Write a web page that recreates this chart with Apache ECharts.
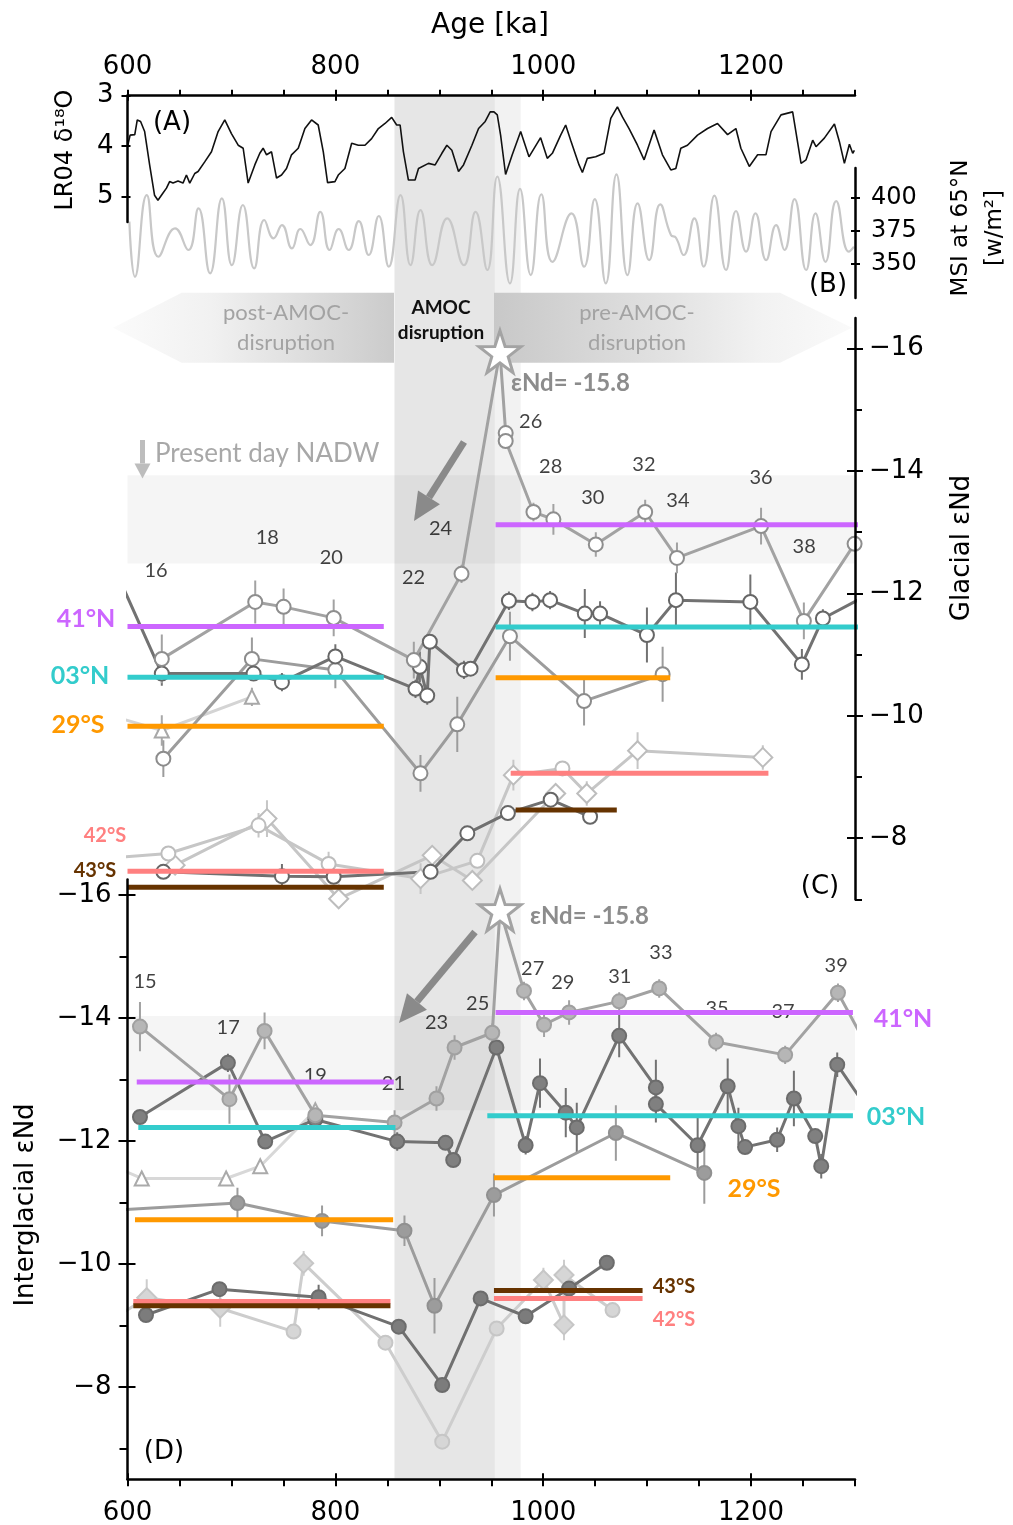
<!DOCTYPE html>
<html>
<head>
<meta charset="utf-8">
<script src="https://cdn.jsdelivr.net/npm/echarts@6/dist/echarts.min.js"></script>
<style>
  html, body { margin: 0; padding: 0; background: #fff; }
  #chart { width: 1013px; height: 1525px; }
</style>
</head>
<body>
<div id="chart"></div>
<script>
// ---- data (age in ka) ----
const lr04 = [[600.3,3.98],[602.5,3.78],[607,3.77],[609.4,3.48],[612.6,3.51],[616.5,3.71],[621.3,4.37],[626,4.97],[629.3,5.07],[634,4.93],[637.5,4.83],[640.5,4.70],[643.8,4.73],[648.6,4.69],[653.4,4.73],[656.7,4.57],[659.9,4.73],[664.7,4.54],[667.9,4.50],[674.3,4.31],[680.8,4.11],[687.2,3.71],[693.6,3.48],[700,3.75],[706.5,3.98],[711.3,4.04],[716.1,4.73],[722.5,4.37],[727.3,4.14],[730.5,4.04],[733.8,4.17],[738.6,4.11],[743.4,4.63],[748.2,4.57],[753,4.44],[757.8,4.17],[764.3,4.04],[770.7,3.65],[777.1,3.48],[783.5,3.58],[788.4,4.11],[792.5,4.72],[799.6,4.70],[802.8,4.57],[809.2,4.44],[815.7,3.94],[822.1,3.98],[828.5,3.98],[834.9,3.85],[841.4,3.65],[847.8,3.55],[854.2,3.43],[859,3.58],[862.3,3.58],[865.5,4.11],[870.3,4.67],[876.7,4.67],[880,4.44],[889.6,4.34],[896,4.37],[902.5,4.14],[907.3,3.98],[912.1,4.08],[918.5,4.50],[923.3,4.37],[931.4,3.98],[937.8,3.65],[944.2,3.51],[949,3.32],[952.6,3.32],[955.8,3.38],[959,3.78],[963.8,4.56],[970.2,4.17],[978.3,3.71],[986.3,4.21],[997.5,3.83],[1003.9,4.24],[1008.8,4.14],[1016.8,3.78],[1021.6,3.58],[1026.4,3.88],[1034.5,4.37],[1037.7,4.52],[1042.5,4.24],[1050.5,4.21],[1058.5,4.14],[1065,3.45],[1071.4,3.22],[1076.2,3.42],[1082.6,3.65],[1090.7,3.98],[1097.1,4.27],[1106.7,3.68],[1114.7,4.17],[1122.8,4.47],[1127.6,4.44],[1132.4,4.04],[1138.8,3.98],[1148.5,3.78],[1158.1,3.65],[1167.7,3.55],[1177.4,3.77],[1185.4,3.65],[1190.2,4.04],[1198.3,4.40],[1206.3,4.17],[1214.3,4.17],[1219.2,3.71],[1228.8,3.38],[1240,3.32],[1248.1,4.34],[1252.9,4.27],[1259.3,3.88],[1262.5,4.01],[1270.5,3.84],[1280.2,3.56],[1285,3.91],[1289.8,4.34],[1294.6,3.96],[1297.8,4.14],[1299.4,4.08]];

const msi = [[601.8,382],[607.2,340.4],[618.5,402],[629.7,355.5],[645.8,376.9],[658.6,360.6],[668.3,392],[679.5,343],[690.8,399.5],[700.4,349.2],[711,394.5],[721.9,346.8],[731.6,383.2],[740.6,369.4],[748.6,379.4],[758.2,361.8],[766.3,376.4],[775.9,364.3],[785.5,389.4],[794.5,360.6],[803.2,376.4],[812.9,360.6],[822.5,382.4],[832.1,356.8],[841.8,386.2],[851.4,348],[862.7,402],[872.3,349.2],[881.9,390.7],[893.2,349.2],[907.6,384.5],[923.7,349.2],[934.9,389.4],[946.2,345.5],[955.8,416],[968,335.4],[977.7,406.6],[988,341.7],[998.2,402.6],[1008.8,351.7],[1027.2,388.2],[1039.4,348],[1049.6,399],[1060.2,335.4],[1070.5,417.6],[1081.1,341.7],[1090.8,395.8],[1102,353],[1112.6,395],[1122.9,371.9],[1127.7,369.8],[1135.1,356.8],[1145.4,384.5],[1154.4,348],[1164.7,401.5],[1175.9,345.5],[1185.5,390],[1195.2,359.3],[1204.2,388.2],[1214.5,353],[1224.1,379.4],[1232.1,360.6],[1241.8,399],[1253,345.5],[1262,388.2],[1271.6,351.7],[1281.9,397.5],[1294.1,359.3],[1299,363]];

// glacial eNd (panel C)
const g41N = [[633,-10.93],[722.9,-11.86],[750.2,-11.78],[798.4,-11.60],[875.5,-10.91],[921.4,-12.32],[958.4,-15.95],[963.9,-14.62],[963.9,-14.49],[990.6,-13.33],[1009.8,-13.21],[1050.6,-12.80],[1098.1,-13.33],[1128.7,-12.58],[1209.6,-13.10],[1250.8,-11.55],[1299.6,-12.81]];
const g41NErr = [0.4,0.35,0.3,0.3,0.3,0.15,0,0,0,0.15,0.25,0.2,0.2,0.25,0.3,0.3,0];
const g41NSym = [null,null,null,null,null,null,'star'];
const g03N = [[594.7,-12.14],[633,-10.69],[721.3,-10.69],[748.6,-10.55],[800,-10.97],[877.1,-10.44],[881.3,-10.80],[888.4,-10.33],[890.9,-11.21],[923.7,-10.75],[930.1,-10.77],[967,-11.88],[989.6,-11.86],[1006.6,-11.89],[1040,-11.67],[1054.7,-11.67],[1099.8,-11.32],[1127.7,-11.89],[1199.3,-11.86],[1248.9,-10.84],[1269.1,-11.59],[1306,-11.92]];
const g03NErr = [0,0.2,0.1,0.15,0.2,0.15,0.25,0.15,0,0.15,0.1,0.15,0.15,0.15,0.4,0.2,0.45,0.45,0.45,0.25,0.15,0];
const g29S = [[634.5,-9.30],[719.7,-10.93],[800,-10.75],[881.9,-9.06],[917.3,-9.86],[968,-11.30],[1039.3,-10.24],[1114.9,-10.68]];
const g29SErr = [0.3,0.35,0.3,0.3,0.45,0.4,0.4,0.45];
const g29STri = [[594.7,-9.95],[633,-9.76],[719.7,-10.31]];
const g29STriErr = [0,0.25,0.15];
const g42Sa = [[594.7,-7.69],[639.3,-7.75],[726.1,-8.21],[793.5,-7.58],[882,-7.34],[936.6,-7.63],[971.3,-9.03],[1018.5,-9.14],[1041.9,-8.73],[1090.8,-9.43],[1211.3,-9.32]];
const g42SaErr = [0,0,0.2,0.2,0.25,0,0.25,0,0.2,0.3,0.2];
const g42SaSym = [null,null,null,null,'diamond',null,'diamond',null,'diamond','diamond','diamond'];
const g42Sb = [[645.8,-7.56],[734.2,-8.32],[803.2,-7.01],[893.2,-7.72],[931.8,-7.31],[1012,-8.73]];
const g42SbErr = [0,0.3,0.25,0,0,0];
const g43S = [[634.5,-7.45],[748.6,-7.38],[798.4,-7.37],[891.6,-7.45],[927,-8.08],[966,-8.41],[1007.2,-8.63],[1045.1,-8.35]];
const g43SErr = [0.1,0.2,0.1,0.1,0,0,0,0];

// interglacial eNd (panel D)
const i41N = [[612,-13.86],[698.1,-12.68],[731.9,-13.79],[780.7,-12.42],[857,-12.30],[897.3,-12.69],[914.7,-13.52],[951,-13.76],[958.4,-15.76],[981.5,-14.44],[1000.8,-13.89],[1024.9,-14.09],[1073.1,-14.27],[1111.6,-14.48],[1166.3,-13.61],[1232.8,-13.40],[1283.6,-14.41],[1306,-13.71]];
const i41NErr = [0.4,0.4,0.3,0.1,0.2,0.2,0.2,0.15,0,0.15,0.2,0.2,0.15,0.15,0.15,0.15,0.15,0];
const i41NSym = [null,null,null,null,null,null,null,null,'star'];
const i03N = [[612,-12.39],[696.6,-13.27],[732.5,-11.99],[780.7,-12.35],[859.5,-11.99],[906,-11.97],[913.4,-11.69],[955,-13.52],[983.1,-11.93],[996.9,-12.94],[1021.7,-12.46],[1032.3,-12.22],[1073.1,-13.71],[1108.4,-12.87],[1108.4,-12.60],[1148.6,-11.93],[1177.5,-12.89],[1187.8,-12.24],[1194.2,-11.90],[1225.1,-12.02],[1241.2,-12.69],[1261.7,-12.08],[1267.5,-11.59],[1282.9,-13.24],[1306,-12.67]];
const i03NErr = [0.1,0.15,0.1,0.1,0.15,0.1,0.1,0,0.15,0.4,0.4,0.4,0.35,0.45,0.3,0.45,0.45,0.3,0.1,0.2,0.45,0.1,0.2,0.2,0];
const i29S = [[594.7,-10.88],[705.8,-10.99],[787.2,-10.70],[866.5,-10.54],[895.4,-9.32],[952.6,-11.12],[1069.9,-12.13],[1155,-11.48]];
const i29SErr = [0,0.25,0.25,0.25,0.45,0.35,0.45,0.5];
const i29STri = [[594.7,-11.53],[613.7,-11.39],[694.9,-11.39],[727.7,-11.59],[780.7,-12.50]];
const i29STriErr = [0,0.1,0.1,0.1,0.1];
const i42S = [[594.7,-9.2],[618.5,-9.45],[689.2,-9.28],[759.8,-8.90],[769.5,-10.01],[848.2,-8.72],[902.8,-7.11],[955.2,-8.95],[1000.2,-9.74],[1020,-9.01],[1020,-9.82],[1066.7,-9.25]];
const i42SErr = [0,0.3,0.3,0.05,0.2,0.05,0.05,0.05,0.2,0.25,0.25,0.05];
const i42SSym = [null,'diamond','diamond',null,'diamond',null,null,null,'diamond','diamond','diamond',null];
const i43S = [[617.8,-9.17],[688.5,-9.59],[783.9,-9.46],[861,-8.98],[902.8,-8.03],[939.8,-9.44],[983.1,-9.15],[1024.9,-9.60],[1061.2,-10.02]];
const i43SErr = [0.05,0.05,0.2,0.05,0.05,0.1,0.05,0.05,0.05];

// site means: [from age, to age, eNd]
const gMean41N = [[600,846.6,-11.46],[954.2,1306,-13.12]];
const gMean03N = [[600,846.6,-10.63],[954.2,1306,-11.45]];
const gMean29S = [[600,846.6,-9.83],[954.2,1122.2,-10.62]];
const gMean42S = [[600,846.6,-7.46],[968.7,1216.7,-9.06]];
const gMean43S = [[600,846.6,-7.20],[973.5,1070.8,-8.46]];
const iMean41N = [[608.9,856.2,-12.96],[954.2,1298,-14.09]];
const iMean03N = [[610.4,857.8,-12.22],[946.2,1298,-12.41]];
const iMean29S = [[607.2,855.6,-10.72],[952.6,1122.2,-11.40]];
const iMean42S = [[605.6,853,-9.39],[952.6,1095.6,-9.44]];
const iMean43S = [[605.6,853,-9.32],[952.6,1095.6,-9.57]];

// MIS numbers [age, eNd, label]
const misGlacial = [[627.5,-12.38,'16'],[734.5,-12.92,'18'],[796.1,-12.59,'20'],[875.2,-12.26,'22'],[901.2,-13.06,'24'],[987.9,-14.81,'26'],[1007.2,-14.08,'28'],[1047.7,-13.57,'30'],[1096.9,-14.11,'32'],[1129.6,-13.52,'34'],[1209.6,-13.90,'36'],[1251.1,-12.77,'38']];
const misInter = [[616.9,-14.60,'15'],[696.9,-13.84,'17'],[780.7,-13.07,'19'],[855.9,-12.93,'21'],[897.3,-13.92,'23'],[936.9,-14.24,'25'],[989.9,-14.81,'27'],[1018.8,-14.57,'29'],[1073.7,-14.67,'31'],[1113.3,-15.06,'33'],[1167.2,-14.16,'35'],[1230.8,-14.11,'37'],[1281.9,-14.85,'39']];

const disruptionBand = [856.9, 953.5];
const transitionBand = [953.5, 978.3];
const nadwGlacial = [-13.93, -12.49];
const nadwInter = [-14.03, -12.50];

const xTicksMajor = [600, 800, 1000, 1200];
const xTicksMinor = [650, 700, 750, 850, 900, 950, 1050, 1100, 1150, 1250, 1300];

// ---- styling ----
const PURPLE = '#cc66ff', CYAN = '#33cccc', ORANGE = '#ff9900', PINK = '#ff8080', BROWN = '#663300';
const AX = 'DejaVu Sans', TX = 'Lato';
const STAR = 'path://M50,2 L61.8,36.9 L98.5,37.3 L69,59.2 L80,94.3 L50,73 L20,94.3 L31,59.2 L1.5,37.3 L38.2,36.9 Z';
const minus = v => String(v).replace('-', '\u2212');
const plain = v => String(v);
const L = 127.5, W = 727.5;

const C = [5, 5], D = [6, 8];

function dataSeries(pts, axis, st, syms) {
  return {
    type: 'line', xAxisIndex: axis[0], yAxisIndex: axis[1], z: 2, clip: true,
    symbol: st.symbol || 'circle', symbolSize: st.size || 14, showAllSymbol: true,
    lineStyle: { color: st.line, width: 3 },
    itemStyle: { color: st.fill, borderColor: st.edge, borderWidth: 2 },
    data: pts.map((p, i) => {
      const s = syms ? syms[i] : null;
      const item = { value: p };
      if (s === 'star') {
        item.symbol = STAR; item.symbolSize = 42;
        item.itemStyle = { color: '#fff', borderColor: '#a3a3a3', borderWidth: 3 };
      } else if (s) {
        item.symbol = s; item.symbolSize = 19;
      }
      return item;
    })
  };
}

function errSeries(pts, errs, axis, color) {
  return {
    type: 'custom', xAxisIndex: axis[0], yAxisIndex: axis[1], z: 2, clip: true, silent: true,
    data: pts.map((p, i) => [p[0], p[1] - errs[i], p[1] + errs[i]]).filter((d, i) => errs[i] > 0),
    renderItem: (params, api) => {
      const a = api.coord([api.value(0), api.value(1)]);
      const b = api.coord([api.value(0), api.value(2)]);
      return { type: 'line', shape: { x1: a[0], y1: a[1], x2: b[0], y2: b[1] }, style: { stroke: color, lineWidth: 2 } };
    }
  };
}

function meanSeries(segs, axis, color) {
  return segs.map(s => ({
    type: 'line', xAxisIndex: axis[0], yAxisIndex: axis[1], z: 4, clip: false, silent: true,
    symbol: 'none', lineStyle: { color: color, width: 5 },
    data: [[s[0], s[2]], [s[1], s[2]]]
  }));
}

function misSeries(list, axis) {
  return {
    type: 'scatter', xAxisIndex: axis[0], yAxisIndex: axis[1], z: 3, silent: true,
    symbolSize: 1, itemStyle: { color: 'rgba(0,0,0,0)' },
    label: { show: true, position: 'inside', formatter: '{b}', fontSize: 20, fontFamily: TX, color: '#111' },
    data: list.map(m => ({ value: [m[0], m[1]], name: m[2] }))
  };
}

function arrow(x1, y1, x2, y2, w, hl, hw, color) {
  const len = Math.hypot(x2 - x1, y2 - y1), ux = (x2 - x1) / len, uy = (y2 - y1) / len;
  const bx = x2 - ux * hl, by = y2 - uy * hl, px = -uy, py = ux;
  return [
    { type: 'line', z: 20, shape: { x1: x1, y1: y1, x2: bx, y2: by }, style: { stroke: color, lineWidth: w } },
    { type: 'polygon', z: 20, shape: { points: [[x2, y2], [bx + px * hw / 2, by + py * hw / 2], [bx - px * hw / 2, by - py * hw / 2]] }, style: { fill: color } }
  ];
}

function txt(x, y, text, size, color, extra) {
  return Object.assign({ type: 'text', x: x, y: y, z: 30, style: Object.assign({
    text: text, fontSize: size, fill: color, fontFamily: TX, align: 'center', verticalAlign: 'middle'
  }, extra && extra.style) }, extra && extra.el);
}

const tickOnly = (grid, pos, vals, len, inside) => ({
  type: 'value', gridIndex: grid, min: 600, max: 1300, position: pos, z: 5,
  axisLine: { show: false }, splitLine: { show: false }, axisLabel: { show: false },
  axisTick: { show: true, inside: inside, length: len, customValues: vals, lineStyle: { color: '#000', width: 2 } }
});
const yTickOnly = (grid, pos, min, max, inv, vals, len, inside) => ({
  type: 'value', gridIndex: grid, min: min, max: max, inverse: inv, position: pos, z: 5,
  axisLine: { show: false, onZero: false }, splitLine: { show: false }, axisLabel: { show: false },
  axisTick: { show: true, inside: inside, length: len, customValues: vals, lineStyle: { color: '#000', width: 2 } }
});
const axLine = { show: true, onZero: false, lineStyle: { color: '#000', width: 2.5 } };

const chart = echarts.init(document.getElementById('chart'), null, { renderer: 'canvas' });

const gStyle = {
  n41: { line: '#a2a2a2', fill: '#fff', edge: '#8e8e8e' },
  n03: { line: '#727272', fill: '#fff', edge: '#666' },
  s29: { line: '#9c9c9c', fill: '#fff', edge: '#8c8c8c' },
  tri: { line: '#d4d4d4', fill: '#fff', edge: '#a8a8a8', symbol: 'triangle', size: 14 },
  s42: { line: '#c6c6c6', fill: '#fff', edge: '#bdbdbd' },
  s43: { line: '#707070', fill: '#fff', edge: '#666' }
};
const iStyle = {
  n41: { line: '#a2a2a2', fill: '#b6b6b6', edge: '#a0a0a0' },
  n03: { line: '#727272', fill: '#808080', edge: '#6c6c6c' },
  s29: { line: '#9c9c9c', fill: '#9c9c9c', edge: '#909090' },
  tri: { line: '#d8d8d8', fill: '#fff', edge: '#aaaaaa', symbol: 'triangle', size: 14 },
  s42: { line: '#cdcdcd', fill: '#d6d6d6', edge: '#c6c6c6' },
  s43: { line: '#707070', fill: '#7c7c7c', edge: '#6c6c6c' }
};

const series = [
  // shaded time bands across all panels
  {
    type: 'line', xAxisIndex: 0, yAxisIndex: 0, z: 0, silent: true, symbol: 'none',
    lineStyle: { opacity: 0 }, data: [[600, 0]],
    markArea: { silent: true, z: 0, data: [
      [{ xAxis: disruptionBand[0], itemStyle: { color: '#e6e6e6' } }, { xAxis: disruptionBand[1] }],
      [{ xAxis: transitionBand[0], itemStyle: { color: '#f2f2f2' } }, { xAxis: transitionBand[1] }]
    ] }
  },
  // present-day NADW ranges
  {
    type: 'line', xAxisIndex: C[0], yAxisIndex: C[1], z: 0, silent: true, symbol: 'none',
    lineStyle: { opacity: 0 }, data: [[600, -10]],
    markArea: { silent: true, z: 0.5, itemStyle: { color: 'rgba(0,0,0,0.04)' }, data: [[{ yAxis: nadwGlacial[0] }, { yAxis: nadwGlacial[1] }]] }
  },
  {
    type: 'line', xAxisIndex: D[0], yAxisIndex: D[1], z: 0, silent: true, symbol: 'none',
    lineStyle: { opacity: 0 }, data: [[600, -10]],
    markArea: { silent: true, z: 0.5, itemStyle: { color: 'rgba(0,0,0,0.04)' }, data: [[{ yAxis: nadwInter[0] }, { yAxis: nadwInter[1] }]] }
  },
  // (A) LR04
  { type: 'line', xAxisIndex: 1, yAxisIndex: 1, z: 2, symbol: 'none', lineStyle: { color: '#111', width: 1.6 }, data: lr04 },
  // (B) insolation
  { type: 'line', xAxisIndex: 4, yAxisIndex: 3, z: 2, symbol: 'none', smooth: 0.5, lineStyle: { color: '#c8c8c8', width: 2.2 }, data: msi },

  misSeries(misGlacial, C),
  misSeries(misInter, D),

  // (C) glacial
  errSeries(g42Sb, g42SbErr, C, gStyle.s42.line),
  errSeries(g42Sa, g42SaErr, C, gStyle.s42.line),
  errSeries(g43S, g43SErr, C, gStyle.s43.line),
  errSeries(g29STri, g29STriErr, C, gStyle.tri.edge),
  errSeries(g29S, g29SErr, C, gStyle.s29.line),
  errSeries(g03N, g03NErr, C, gStyle.n03.line),
  errSeries(g41N, g41NErr, C, gStyle.n41.line),
  dataSeries(g42Sb, C, Object.assign({}, gStyle.s42, { symbol: 'diamond', size: 19 })),
  dataSeries(g42Sa, C, gStyle.s42, g42SaSym),
  dataSeries(g43S, C, gStyle.s43),
  dataSeries(g29STri, C, gStyle.tri),
  dataSeries(g29S, C, gStyle.s29),
  dataSeries(g03N, C, gStyle.n03),
  dataSeries(g41N, C, gStyle.n41, g41NSym),

  // (D) interglacial
  errSeries(i42S, i42SErr, D, iStyle.s42.line),
  errSeries(i43S, i43SErr, D, iStyle.s43.line),
  errSeries(i29STri, i29STriErr, D, iStyle.tri.edge),
  errSeries(i29S, i29SErr, D, iStyle.s29.line),
  errSeries(i03N, i03NErr, D, iStyle.n03.line),
  errSeries(i41N, i41NErr, D, iStyle.n41.line),
  dataSeries(i42S, D, iStyle.s42, i42SSym),
  dataSeries(i43S, D, iStyle.s43),
  dataSeries(i29STri, D, iStyle.tri),
  dataSeries(i29S, D, iStyle.s29),
  dataSeries(i03N, D, iStyle.n03),
  dataSeries(i41N, D, iStyle.n41, i41NSym),

  ...meanSeries(gMean43S, C, BROWN),
  ...meanSeries(gMean42S, C, PINK),
  ...meanSeries(gMean29S, C, ORANGE),
  ...meanSeries(gMean03N, C, CYAN),
  ...meanSeries(gMean41N, C, PURPLE),
  ...meanSeries(iMean42S, D, PINK),
  ...meanSeries(iMean43S, D, BROWN),
  ...meanSeries(iMean29S, D, ORANGE),
  ...meanSeries(iMean03N, D, CYAN),
  ...meanSeries(iMean41N, D, PURPLE)
];

const grad = (stops) => new echarts.graphic.LinearGradient(0, 0, 1, 0, stops);

const graphic = [
  // post / pre AMOC disruption arrows
  { type: 'polygon', z: 1, shape: { points: [[394, 292.7], [181.7, 292.7], [113, 327.7], [181.7, 362.7], [394, 362.7]] },
    style: { fill: grad([{ offset: 0, color: '#fbfbfb' }, { offset: 0.35, color: '#f1f1f1' }, { offset: 1, color: '#cbcbcb' }]) } },
  { type: 'polygon', z: 1, shape: { points: [[494, 292.7], [780, 292.7], [852, 327.7], [780, 362.7], [494, 362.7]] },
    style: { fill: grad([{ offset: 0, color: '#c8c8c8' }, { offset: 0.5, color: '#e3e3e3' }, { offset: 0.75, color: '#f2f2f2' }, { offset: 1, color: '#fafafa' }]) } },
  txt(286, 328, 'post-AMOC-\ndisruption', 22, '#a3a3a3', { style: { lineHeight: 30 } }),
  txt(637, 328, 'pre-AMOC-\ndisruption', 22, '#a3a3a3', { style: { lineHeight: 30 } }),
  txt(441, 320, 'AMOC\ndisruption', 19, '#111', { style: { fontWeight: 'bold', lineHeight: 25 } }),

  // axis titles
  txt(490, 26, 'Age [ka]', 28, '#000', { style: { fontFamily: AX } }),
  txt(66, 150, 'LR04 δ\u00b9\u2078O', 24, '#000', { style: { fontFamily: AX }, el: { rotation: Math.PI / 2 } }),
  txt(961, 228, 'MSI at 65°N', 23, '#000', { style: { fontFamily: AX }, el: { rotation: Math.PI / 2 } }),
  txt(995, 228, '[w/m\u00b2]', 23, '#000', { style: { fontFamily: AX }, el: { rotation: Math.PI / 2 } }),
  txt(962, 548, 'Glacial εNd', 26, '#000', { style: { fontFamily: AX }, el: { rotation: Math.PI / 2 } }),
  txt(26, 1205, 'Interglacial εNd', 26, '#000', { style: { fontFamily: AX }, el: { rotation: Math.PI / 2 } }),

  // panel letters
  txt(172, 123, '(A)', 26, '#000', { style: { fontFamily: AX } }),
  txt(828, 285, '(B)', 26, '#000', { style: { fontFamily: AX } }),
  txt(820, 887, '(C)', 26, '#000', { style: { fontFamily: AX } }),
  txt(164, 1452, '(D)', 26, '#000', { style: { fontFamily: AX } }),

  // NADW note
  txt(155, 454, 'Present day NADW', 26, '#a8a8a8', { style: { align: 'left' } }),
  ...arrow(142.5, 440, 142.5, 478.5, 5, 15, 16, '#bdbdbd'),

  // star annotations and arrows
  txt(511, 383, 'εNd= -15.8', 24, '#8c8c8c', { style: { align: 'left', fontWeight: 'bold' } }),
  txt(530, 916, 'εNd= -15.8', 24, '#8c8c8c', { style: { align: 'left', fontWeight: 'bold' } }),
  ...arrow(464, 442, 414, 521, 7, 28, 26, '#8a8a8a'),
  ...arrow(475, 932, 399, 1023, 7, 28, 26, '#8a8a8a'),

  // site labels
  txt(86, 619, '41°N', 25, PURPLE, { style: { fontWeight: 'bold' } }),
  txt(80, 676, '03°N', 25, CYAN, { style: { fontWeight: 'bold' } }),
  txt(78, 725, '29°S', 25, ORANGE, { style: { fontWeight: 'bold' } }),
  txt(105, 836, '42°S', 20, PINK, { style: { fontWeight: 'bold' } }),
  txt(95, 871, '43°S', 20, BROWN, { style: { fontWeight: 'bold' } }),
  txt(903, 1019, '41°N', 25, PURPLE, { style: { fontWeight: 'bold' } }),
  txt(896, 1117, '03°N', 25, CYAN, { style: { fontWeight: 'bold' } }),
  txt(754, 1189, '29°S', 25, ORANGE, { style: { fontWeight: 'bold' } }),
  txt(674, 1287, '43°S', 20, BROWN, { style: { fontWeight: 'bold' } }),
  txt(674, 1320, '42°S', 20, PINK, { style: { fontWeight: 'bold' } })
];

chart.setOption({
  animation: false,
  backgroundColor: '#fff',
  grid: [
    { left: L, top: 95.7, width: W, height: 1382.8, outerBoundsMode: 'none' },
    { left: L, top: 95.7, width: W, height: 126.3, outerBoundsMode: 'none' },
    { left: L, top: 168, width: W, height: 130, outerBoundsMode: 'none' },
    { left: L, top: 318, width: W, height: 581.4, outerBoundsMode: 'none' },
    { left: L, top: 879.6, width: W, height: 599.6, outerBoundsMode: 'none' }
  ],
  xAxis: [
    { type: 'value', gridIndex: 0, min: 600, max: 1300, show: false },
    { type: 'value', gridIndex: 1, min: 600, max: 1300, position: 'top', z: 5, axisLine: axLine, splitLine: { show: false },
      axisTick: { length: 6, customValues: xTicksMajor, lineStyle: { color: '#000', width: 2 } },
      axisLabel: { customValues: xTicksMajor, formatter: plain, fontSize: 26, color: '#000', fontFamily: AX, margin: 15 } },
    tickOnly(1, 'top', xTicksMinor, 6, false),
    tickOnly(1, 'top', xTicksMajor, 5, true),
    { type: 'value', gridIndex: 2, min: 600, max: 1300, show: false },
    { type: 'value', gridIndex: 3, min: 600, max: 1300, show: false },
    { type: 'value', gridIndex: 4, min: 600, max: 1300, position: 'bottom', z: 5, axisLine: axLine, splitLine: { show: false },
      axisTick: { length: 7, customValues: xTicksMajor, lineStyle: { color: '#000', width: 2 } },
      axisLabel: { customValues: xTicksMajor, formatter: plain, fontSize: 26, color: '#000', fontFamily: AX, margin: 21 } },
    tickOnly(4, 'bottom', xTicksMinor, 7, false),
    tickOnly(4, 'bottom', xTicksMajor, 6, true)
  ],
  yAxis: [
    { type: 'value', gridIndex: 0, min: 0, max: 1, show: false },
    { type: 'value', gridIndex: 1, min: 3, max: 5.5, inverse: true, position: 'left', z: 5, axisLine: axLine, splitLine: { show: false },
      axisTick: { length: 6, customValues: [3, 4, 5], lineStyle: { color: '#000', width: 2 } },
      axisLabel: { customValues: [3, 4, 5], fontSize: 26, color: '#000', fontFamily: AX, margin: 14 } },
    yTickOnly(1, 'left', 3, 5.5, true, [3, 4, 5], 3, true),
    { type: 'value', gridIndex: 2, min: 324.4, max: 422.4, position: 'right', z: 5, axisLine: axLine, splitLine: { show: false },
      axisTick: { length: 5, customValues: [350, 375, 400], lineStyle: { color: '#000', width: 2 } },
      axisLabel: { customValues: [350, 375, 400], fontSize: 24, color: '#000', fontFamily: AX, margin: 16 } },
    yTickOnly(2, 'right', 324.4, 422.4, false, [350, 375, 400], 4, true),
    { type: 'value', gridIndex: 3, min: -16.5, max: -7, inverse: true, position: 'right', z: 5, axisLine: axLine, splitLine: { show: false },
      axisTick: { length: 8, customValues: [-16, -14, -12, -10, -8], lineStyle: { color: '#000', width: 2 } },
      axisLabel: { customValues: [-16, -14, -12, -10, -8], formatter: minus, fontSize: 26, color: '#000', fontFamily: AX, margin: 14 } },
    yTickOnly(3, 'right', -16.5, -7, true, [-16, -14, -12, -10, -8], 8, true),
    yTickOnly(3, 'right', -16.5, -7, true, [-15, -13, -11, -9, -7], 7, false),
    { type: 'value', gridIndex: 4, min: -16.25, max: -6.5, inverse: true, position: 'left', z: 5, axisLine: axLine, splitLine: { show: false },
      axisTick: { length: 9, customValues: [-16, -14, -12, -10, -8], lineStyle: { color: '#000', width: 2 } },
      axisLabel: { customValues: [-16, -14, -12, -10, -8], formatter: minus, fontSize: 26, color: '#000', fontFamily: AX, margin: 16 } },
    yTickOnly(4, 'left', -16.25, -6.5, true, [-16, -14, -12, -10, -8], 8, true),
    yTickOnly(4, 'left', -16.25, -6.5, true, [-15, -13, -11, -9, -7], 8, false)
  ],
  series: series,
  graphic: graphic
});
</script>
</body>
</html>
